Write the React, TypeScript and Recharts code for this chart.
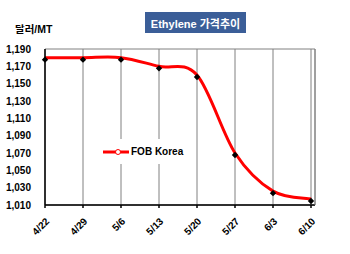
import React from 'react';
import { LineChart, Line, XAxis, YAxis, CartesianGrid } from 'recharts';

const dates = ['4/22', '4/29', '5/6', '5/13', '5/20', '5/27', '6/3', '6/10'];
const fobKorea = [1180, 1180, 1180, 1170, 1160, 1070, 1026, 1017];
const yTicks = [1010, 1030, 1050, 1070, 1090, 1110, 1130, 1150, 1170, 1190];
const seriesName = 'FOB Korea';

const data = dates.map((d, i) => ({ date: d, v: fobKorea[i] }));

const FONT = '"Liberation Sans", Arial, sans-serif';
const KFONT = '"Liberation Sans", "Noto Sans CJK KR", sans-serif';

// Catmull-Rom style (cardinal, tension 0) smoothing like Excel's smoothed line
const smoothCurve = (context: any) => {
  let pts: number[][] = [];
  return {
    areaStart() {},
    areaEnd() {},
    lineStart() {
      pts = [];
    },
    lineEnd() {
      const n = pts.length;
      if (!n) return;
      context.moveTo(pts[0][0], pts[0][1]);
      for (let i = 0; i < n - 1; i++) {
        const p0 = pts[Math.max(i - 1, 0)];
        const p1 = pts[i];
        const p2 = pts[i + 1];
        const p3 = pts[Math.min(i + 2, n - 1)];
        context.bezierCurveTo(
          p1[0] + (p2[0] - p0[0]) / 6,
          p1[1] + (p2[1] - p0[1]) / 6,
          p2[0] - (p3[0] - p1[0]) / 6,
          p2[1] - (p3[1] - p1[1]) / 6,
          p2[0],
          p2[1]
        );
      }
    },
    point(x: number, y: number) {
      pts.push([+x, +y]);
    },
  };
};

const Diamond = (props: any) => {
  const { cx, cy, index } = props;
  if (cx == null || cy == null) return null;
  const s = 3.2;
  const y = cy + 2;
  return (
    <path
      key={`d-${index}`}
      d={`M${cx},${y - s} L${cx + s},${y} L${cx},${y + s} L${cx - s},${y} Z`}
      fill="#000"
    />
  );
};

const XTick = (props: any) => {
  const { x, y, payload } = props;
  return (
    <g transform={`translate(${x + 5},${y + 12})`}>
      <text
        x={0}
        y={0}
        textAnchor="end"
        transform="rotate(-45)"
        fontFamily={FONT}
        fontWeight="bold"
        fontSize={10}
        fill="#000"
      >
        {payload.value}
      </text>
    </g>
  );
};

const LegendBox = () => (
  <div
    style={{
      position: 'absolute',
      left: 95,
      top: 139,
      background: '#fff',
      width: 95,
      height: 25,
      display: 'flex',
      alignItems: 'center',
      fontFamily: FONT,
      fontWeight: 'bold',
      fontSize: 10,
      color: '#000',
      zIndex: 1,
    }}
  >
    <svg width={29} height={10} style={{ marginLeft: 7 }}>
      <line x1={1} y1={5} x2={27} y2={5} stroke="#ff0000" strokeWidth={3} />
      <circle cx={16} cy={5} r={2.5} fill="#fff" stroke="#ff0000" strokeWidth={1} />
    </svg>
    <span>{seriesName}</span>
  </div>
);

export default function App() {
  return (
    <div style={{ position: 'absolute', left: 0, top: 0, width: 350, height: 254, background: '#fff' }}>
      <div
        style={{
          position: 'absolute',
          left: 145,
          top: 12,
          width: 101,
          height: 21,
          background: '#3b5e98',
          color: '#fff',
          fontFamily: KFONT,
          fontWeight: 'bold',
          fontSize: 11,
          display: 'flex',
          alignItems: 'center',
          justifyContent: 'center',
          zIndex: 2,
        }}
      >
        Ethylene 가격추이
      </div>
      <div
        style={{
          position: 'absolute',
          left: 15,
          top: 21,
          fontFamily: KFONT,
          fontWeight: 'bold',
          fontSize: 10.5,
          color: '#000',
          zIndex: 2,
          whiteSpace: 'nowrap',
        }}
      >
        달러/MT
      </div>
      <LineChart
        width={350}
        height={254}
        data={data}
        margin={{ top: 49, right: 0, bottom: 0, left: 0 }}
      >
        <CartesianGrid stroke="#808080" strokeWidth={1} />
        <XAxis
          dataKey="date"
          padding={{ left: 0, right: 4 }}
          height={49}
          axisLine={{ stroke: '#000', strokeWidth: 1.5 }}
          tickLine={{ stroke: '#000', strokeWidth: 1.5 }}
          tickSize={3}
          interval={0}
          tick={<XTick />}
        />
        <YAxis
          yAxisId="l"
          width={45}
          domain={[1010, 1190]}
          ticks={yTicks}
          interval={0}
          type="number"
          allowDataOverflow
          axisLine={{ stroke: '#000', strokeWidth: 1.5 }}
          tickLine={false}
          tickSize={0}
          tickMargin={14}
          tickFormatter={(v: number) => v.toLocaleString('en-US')}
          tick={{ fontFamily: FONT, fontWeight: 'bold', fontSize: 10, fill: '#000' }}
        />
        <YAxis
          yAxisId="r"
          orientation="right"
          width={35}
          domain={[1010, 1190]}
          tick={false}
          tickLine={false}
          axisLine={{ stroke: '#808080', strokeWidth: 1 }}
        />
        <Line
          yAxisId="l"
          dataKey="v"
          stroke="none"
          dot={<Diamond />}
          activeDot={false}
          legendType="none"
          isAnimationActive={false}
        />
        <Line
          yAxisId="l"
          dataKey="v"
          name={seriesName}
          type={smoothCurve as any}
          stroke="#ff0000"
          strokeWidth={3}
          dot={false}
          activeDot={false}
          isAnimationActive={false}
        />
      </LineChart>
      <LegendBox />
    </div>
  );
}
